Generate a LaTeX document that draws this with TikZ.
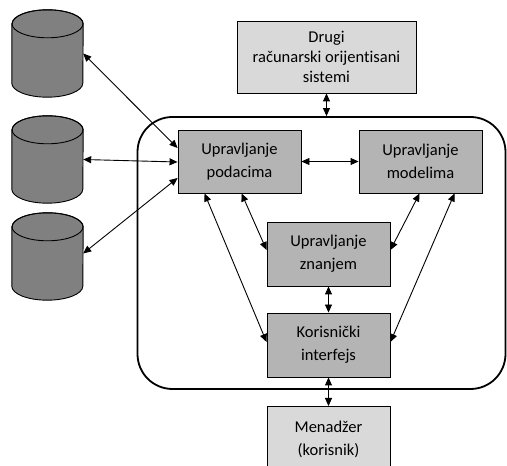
\documentclass[tikz,border=0pt]{standalone}
\usepackage{fontspec}
\setmainfont{Carlito}[Ligatures=NoCommon]
\usetikzlibrary{arrows.meta,calc}

\definecolor{boxdark}{RGB}{180,180,180}
\definecolor{boxlight}{RGB}{217,217,217}
\definecolor{dbgray}{RGB}{128,128,128}

\tikzset{
  every node/.style={font=\fontsize{16.5}{23}\selectfont, align=center},
  darkbox/.style={draw, fill=boxdark, line width=0.9pt, minimum width=123pt, minimum height=63pt, inner sep=0pt},
  lightbox/.style={draw, fill=boxlight, line width=0.9pt, inner sep=0pt},
  biarrow/.style={line width=0.9pt, {Triangle[length=8pt,width=7pt]}-{Triangle[length=8pt,width=7pt]}},
  dbnode/.style={minimum width=71pt, minimum height=87pt, inner sep=0pt},
  dbshape/.style={fill=dbgray, draw, line width=0.9pt}
}

% cylinder drawn around a named placeholder node
\newcommand{\dbcylinder}[1]{%
  \path[dbshape] ($(#1.north west)+(0,-14)$) -- ($(#1.south west)+(0,14)$)
    arc[start angle=180, end angle=360, x radius=35.5, y radius=14]
    -- ($(#1.north east)+(0,-14)$)
    arc[start angle=0, end angle=180, x radius=35.5, y radius=14] -- cycle;
  \draw[line width=0.9pt] ($(#1.north)+(0,-14)$) ellipse[x radius=35.5, y radius=14];
}

\begin{document}
\begin{tikzpicture}[x=1pt, y=1pt]
\useasboundingbox (0,0) rectangle (507,466);
\clip (0,0) rectangle (507,466);

% outer rounded frame of the system
\node[draw, line width=1.8pt, rounded corners=35pt, minimum width=368pt, minimum height=272pt, inner sep=0pt] (core) at (321.5,213) {};

% external boxes
\node[lightbox, minimum width=179pt, minimum height=72pt, font=\fontsize{16.5}{20}\selectfont] (drugi) at (326.5,409) {Drugi\\računarski orijentisani\\sistemi};
\node[lightbox, minimum width=123pt, minimum height=80pt, anchor=north] (men) at (328.5,60) {};
\node[inner sep=0pt] (mentext) at ($(men.north)+(0,-33)$) {Menadžer\\(korisnik)};

% internal subsystems
\node[darkbox] (pod) at (239.5,304.5) {Upravljanje\\podacima};
\node[darkbox] (mod) at (420.5,304.5) {Upravljanje\\modelima};
\node[darkbox, minimum height=64pt] (zna) at (328.5,212) {Upravljanje\\znanjem};
\node[darkbox, minimum height=64pt] (kor) at (328.5,121) {Korisnički\\interfejs};

% databases
\node[dbnode] (db1) at (47.5,412.5) {};
\node[dbnode] (db2) at (47.5,306.5) {};
\node[dbnode] (db3) at (47.5,209.5) {};
\dbcylinder{db1}
\dbcylinder{db2}
\dbcylinder{db3}

% connectors
\draw[biarrow] (db1.east) -- ($(pod.west)+(0,13.5)$);
\draw[biarrow] (db2.east) -- ($(pod.west)+(0,-0.5)$);
\draw[biarrow] ($(db3.east)+(0,3)$) -- ($(pod.west)+(0,-16.5)$);

\draw[biarrow] (drugi.south) -- (drugi.south |- core.north);
\draw[biarrow] (pod.east) -- (mod.west);
\draw[biarrow] (zna.south) -- (kor.north);
\draw[biarrow] (kor.south) -- (men.north);

\draw[biarrow] ($(pod.south west)+(27,0)$) -- ($(kor.west)+(0,3)$);
\draw[biarrow] ($(pod.south west)+(64,0)$) -- ($(zna.west)+(0,4)$);
\draw[biarrow] ($(mod.south west)+(61,0)$) -- ($(zna.east)+(0,4)$);
\draw[biarrow] ($(mod.south west)+(96,0)$) -- ($(kor.east)+(0,3)$);
\end{tikzpicture}
\end{document}
